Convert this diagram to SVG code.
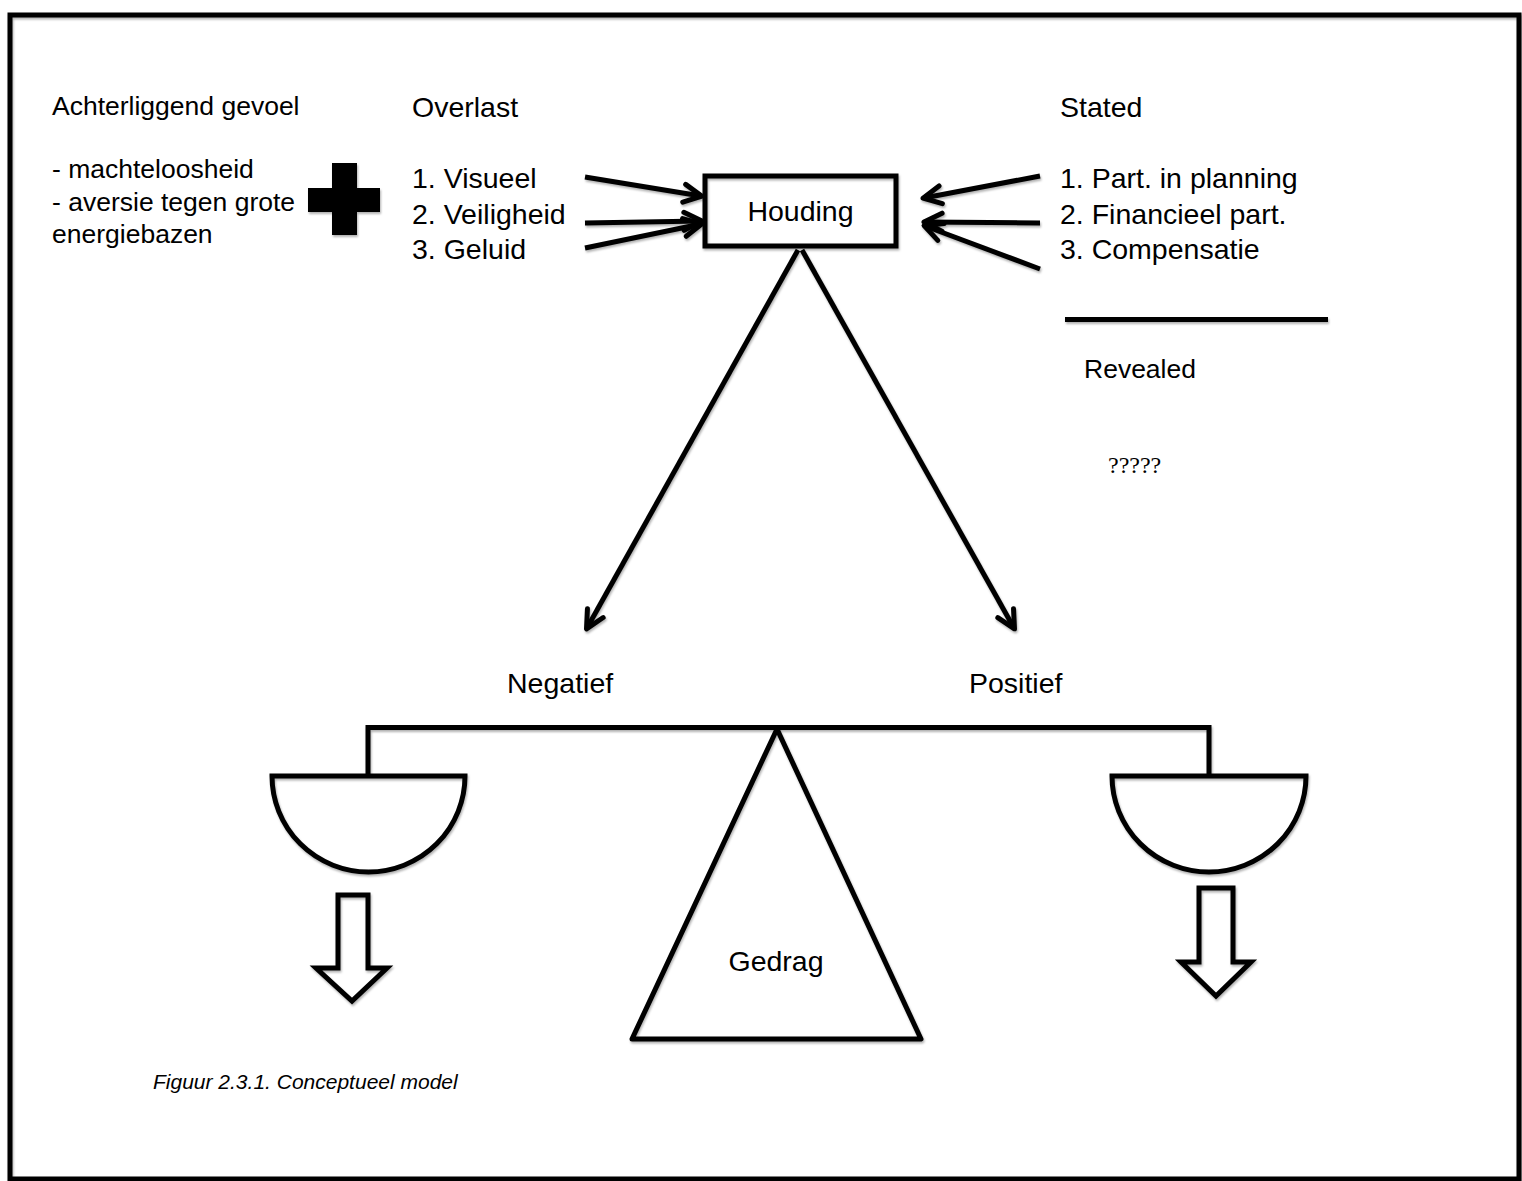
<svg xmlns="http://www.w3.org/2000/svg" width="1522" height="1181" viewBox="0 0 1522 1181">
<style>
text{font-family:"Liberation Sans",Arial,Helvetica,sans-serif;fill:#000}
.t{font-size:28.5px}
.s{font-size:26.5px}
.cap{font-size:21px;font-style:italic}
.q{font-family:"Liberation Serif","Times New Roman",serif;font-size:24px}
.ln{fill:none;stroke:#000;stroke-width:5}
.arr{fill:none;stroke:#000;stroke-width:5;marker-end:url(#head)}
</style>
<defs>
<filter id="sh" filterUnits="userSpaceOnUse" x="0" y="0" width="1522" height="1181">
<feDropShadow dx="1" dy="2" stdDeviation="1.3" flood-color="#000" flood-opacity="0.3"/>
</filter>
<marker id="head" viewBox="0 0 24 24" markerUnits="userSpaceOnUse" markerWidth="24" markerHeight="24" refX="20" refY="12" orient="auto">
<path d="M3,3 L21,12 L3,21" fill="none" stroke="#000" stroke-width="5" stroke-linecap="round" stroke-linejoin="round"/>
</marker>
</defs>
<rect width="1522" height="1181" fill="#fff"/>
<g id="frame" filter="url(#sh)">
<rect x="10" y="15" width="1509" height="1164" class="ln"/>
</g>
<g id="achterliggend">
<text class="s" x="52" y="115">Achterliggend gevoel</text>
<text class="s" x="52" y="178">- machteloosheid</text>
<text class="s" x="52" y="211">- aversie tegen grote</text>
<text class="s" x="52" y="243">energiebazen</text>
</g>
<g id="plus" filter="url(#sh)">
<path d="M332,163 H357 V188 H380 V212 H357 V235 H332 V212 H308 V188 H332 Z" fill="#000"/>
</g>
<g id="overlast">
<text class="t" x="412" y="117">Overlast</text>
<text class="t" x="412" y="188">1. Visueel</text>
<text class="t" x="412" y="224">2. Veiligheid</text>
<text class="t" x="412" y="259">3. Geluid</text>
</g>
<g id="houding">
<rect x="705" y="176" width="191" height="70" class="ln" fill="#fff" filter="url(#sh)"/>
<text class="t" x="800.5" y="221" text-anchor="middle">Houding</text>
</g>
<g id="stated">
<text class="t" x="1060" y="117">Stated</text>
<text class="t" x="1060" y="188">1. Part. in planning</text>
<text class="t" x="1060" y="224">2. Financieel part.</text>
<text class="t" x="1060" y="259">3. Compensatie</text>
</g>
<g id="revealed">
<line x1="1065" y1="319.5" x2="1328" y2="319.5" class="ln" filter="url(#sh)"/>
<text class="s" x="1084" y="378">Revealed</text>
<text class="q" x="1108" y="473">?????</text>
</g>
<g id="negatief"><text class="t" x="507" y="693">Negatief</text></g>
<g id="positief"><text class="t" x="969" y="693">Positief</text></g>
<g id="connectors" filter="url(#sh)">
<line x1="585" y1="177" x2="701" y2="196" class="arr"/>
<line x1="585" y1="223" x2="701" y2="221" class="arr"/>
<line x1="585" y1="248" x2="701" y2="224" class="arr"/>
<line x1="1040" y1="176" x2="924" y2="198" class="arr"/>
<line x1="1040" y1="223" x2="925" y2="222" class="arr"/>
<line x1="1040" y1="269" x2="925" y2="226" class="arr"/>
<line x1="798" y1="250" x2="587" y2="628" class="arr"/>
<line x1="802" y1="250" x2="1014" y2="628" class="arr"/>
</g>
<g id="balans" filter="url(#sh)">
<path d="M368,776 V727.5 H1209 V776" class="ln"/>
<path d="M272,776 H465 A96.5,96 0 0 1 272,776 Z" class="ln" fill="#fff"/>
<path d="M1112,776 H1306 A97,96 0 0 1 1112,776 Z" class="ln" fill="#fff"/>
<path d="M338,895 H368 V968 H387 L352,1001 L316,968 H338 Z" class="ln" fill="#fff" stroke-linejoin="miter"/>
<path d="M1199,888 H1233 V962 H1251 L1216,996 L1181,962 H1199 Z" class="ln" fill="#fff" stroke-linejoin="miter"/>
</g>
<g id="gedrag">
<path d="M777,729 L921,1039 H632 Z" class="ln" fill="#fff" stroke-linejoin="round" filter="url(#sh)"/>
<text class="t" x="776" y="971" text-anchor="middle">Gedrag</text>
</g>
<g id="caption"><text class="cap" x="153" y="1089">Figuur 2.3.1. Conceptueel model</text></g>
</svg>
